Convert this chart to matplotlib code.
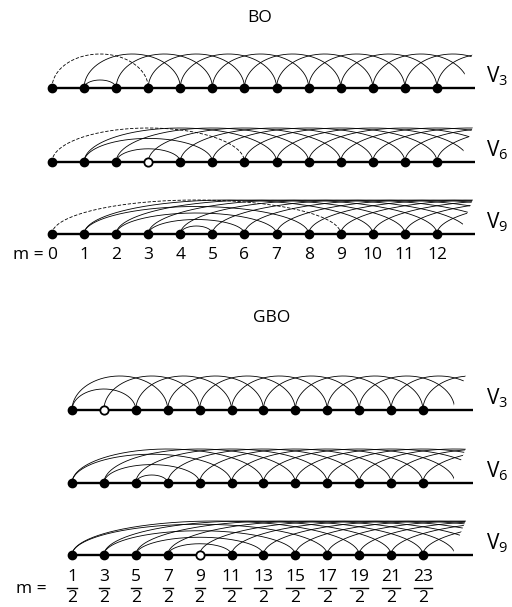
import numpy as np
import matplotlib.pyplot as plt
from matplotlib.patches import Polygon

plt.rcParams['font.family'] = ['Open Sans', 'DejaVu Sans']
plt.rcParams['mathtext.default'] = 'regular'

# potential orders shown in each panel
orders = [3, 6, 9]

# BO: integer m
bo_m = [0, 1, 2, 3, 4, 5, 6, 7, 8, 9, 10, 11, 12]
bo_pairs = {3: [(1, 2)], 6: [(1, 5), (2, 4)], 9: [(1, 8), (2, 7), (3, 6), (4, 5)]}
bo_dashed = {3: [(0, 3)], 6: [(0, 6)], 9: [(0, 9)]}
bo_open = {3: [], 6: [3], 9: []}

# GBO: half-integer m
gbo_num = [1, 3, 5, 7, 9, 11, 13, 15, 17, 19, 21, 23]
gbo_m = [k / 2 for k in gbo_num]
gbo_pairs = {3: [(0.5, 2.5)],
             6: [(0.5, 5.5), (1.5, 4.5), (2.5, 3.5)],
             9: [(0.5, 8.5), (1.5, 7.5), (2.5, 6.5), (3.5, 5.5)]}
gbo_dashed = {3: [], 6: [], 9: []}
gbo_open = {3: [1.5], 6: [], 9: [4.5]}

fig = plt.figure(figsize=(5.12, 6.07), dpi=100)
ax = fig.add_axes([0, 0, 1, 1])
ax.set_xlim(0, 512)
ax.set_ylim(607, 0)
ax.axis('off')

H = 34.0
FS = 12.5


def arc(xa, xb, base, h, clip, **kw):
    t = np.linspace(0, np.pi, 200)
    xc, a = (xa + xb) / 2, (xb - xa) / 2
    line, = ax.plot(xc - a * np.cos(t), base - h * np.sin(t), color='black', lw=0.6, zorder=2, **kw)
    line.set_clip_path(clip)


def draw_row(nodes, n, base, m0, x0, dx, pairs, dashed, opens, xclip, xend):
    X = lambda m: x0 + (m - m0) * dx
    clip = Polygon([(0, base - 60), (xclip + 0.4 * 60, base - 60), (xclip, base), (xclip, base + 10), (0, base + 10)],
                   closed=True, transform=ax.transData, fill=False, visible=False)
    ax.add_patch(clip)
    ax.plot([X(nodes[0]), xend], [base, base], color='black', lw=1.7, zorder=3, solid_capstyle='butt')
    for m in nodes:
        if (m, m + n) in dashed:
            continue
        arc(X(m), X(m + n), base, H, clip)
    for (a, b) in dashed:
        arc(X(a), X(b), base, H, clip, ls=(0, (4, 2)))
    for (a, b) in pairs:
        span = b - a
        h = 8 + (H - 8) * (span - 1) / (n - 1)
        arc(X(a), X(b), base, h, clip)
    filled = [m for m in nodes if m not in opens]
    ax.plot([X(m) for m in filled], [base] * len(filled), 'o', color='black', ms=6, zorder=4)
    if opens:
        ax.plot([X(m) for m in opens], [base] * len(opens), 'o', mfc='white', mec='black', mew=1.3, ms=6, zorder=4)
    ax.text(486, base - 6, 'V$_{%d}$' % n, fontsize=15, ha='left', va='baseline')
    return X


# BO panel
ax.text(260, 18, 'BO', fontsize=FS, ha='center', va='center')
bo_base = [88, 162, 234]
for n, base in zip(orders, bo_base):
    Xb = draw_row(bo_m, n, base, 0, 52, 32.08, bo_pairs[n], bo_dashed[n], bo_open[n], 459, 475)
ax.text(44, 255, 'm =', fontsize=FS, ha='right', va='center')
for m in bo_m:
    ax.text(Xb(m), 255, str(m), fontsize=FS, ha='center', va='center')

# GBO panel
ax.text(272, 318, 'GBO', fontsize=FS, ha='center', va='center')
gbo_base = [410, 483, 555]
for n, base in zip(orders, gbo_base):
    Xg = draw_row(gbo_m, n, base, 0.5, 72, 31.9, gbo_pairs[n], gbo_dashed[n], gbo_open[n], 452, 473)
ax.text(47, 589, 'm =', fontsize=FS, ha='right', va='center')
for num, m in zip(gbo_num, gbo_m):
    xm = Xg(m)
    ax.text(xm, 577, str(num), fontsize=FS, ha='center', va='center')
    w = 5 if num < 10 else 9
    ax.plot([xm - w, xm + w], [588, 588], color='black', lw=1.0)
    ax.text(xm, 598, '2', fontsize=FS, ha='center', va='center')

fig.savefig('out.png', dpi=100)
